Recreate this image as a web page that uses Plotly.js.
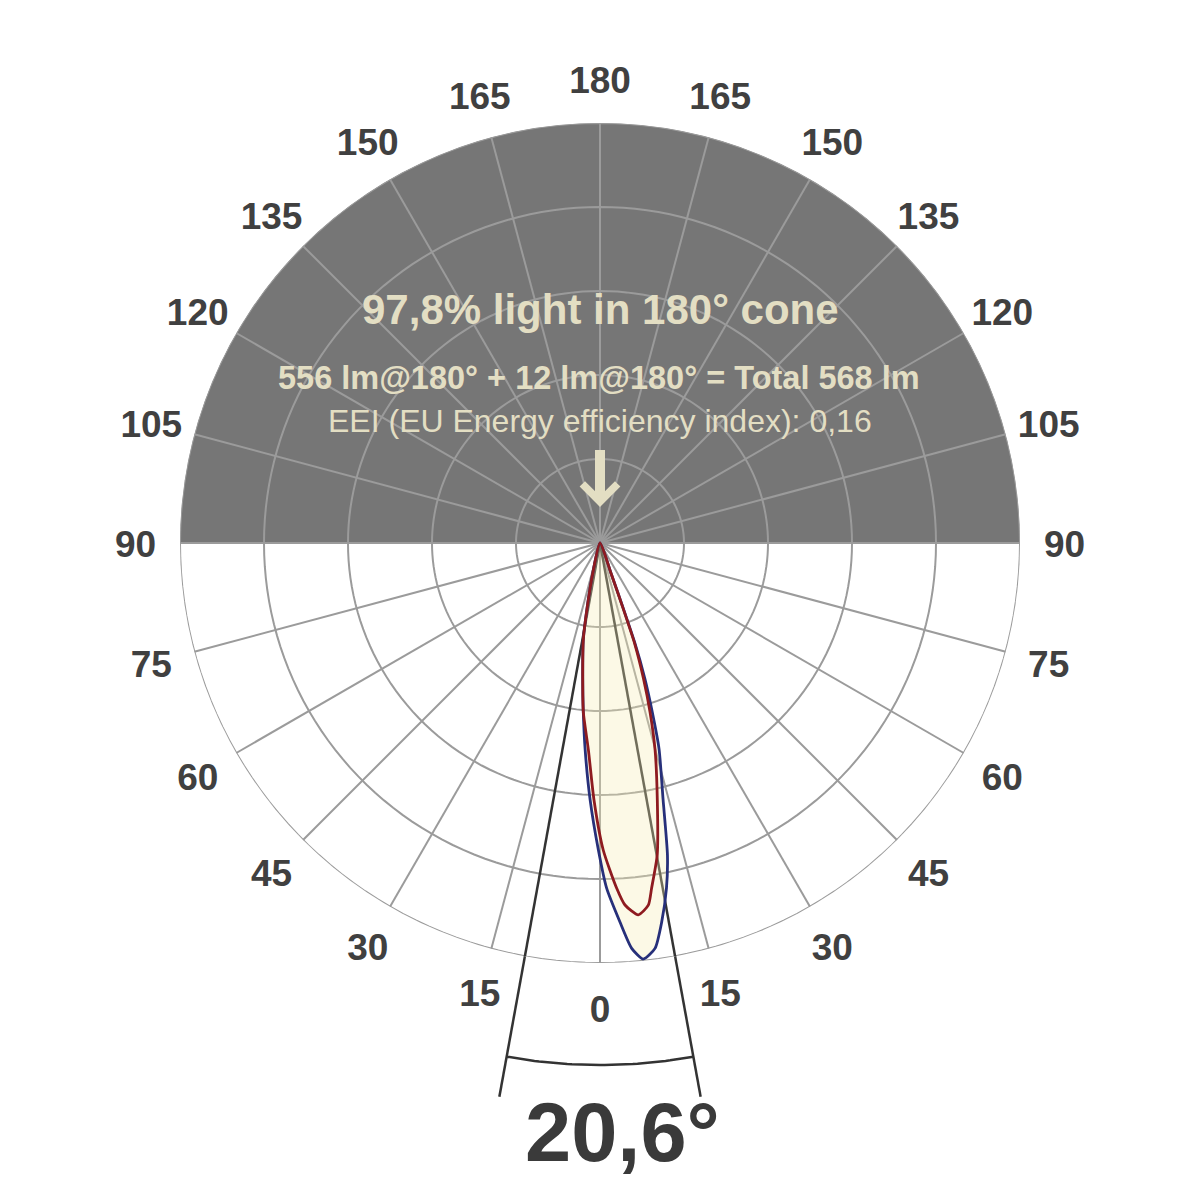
<!DOCTYPE html>
<html>
<head>
<meta charset="utf-8">
<script src="https://cdn.plot.ly/plotly-3.0.1.min.js"></script>
<style>html,body{margin:0;padding:0;background:#fff;}#chart{width:1200px;height:1200px;}</style>
</head>
<body>
<div id="chart"></div>
<script>
// ---- data ----
const ringRadii = [20, 40, 60, 80, 100];
const spokeAngles = [0, 15, 30, 45, 60, 75, 90, 105, 120, 135, 150, 165, 180, 195, 210, 225, 240, 255, 270, 285, 300, 315, 330, 345];
const tickLabels = ['0', '15', '30', '45', '60', '75', '90', '105', '120', '135', '150', '165', '180', '165', '150', '135', '120', '105', '90', '75', '60', '45', '30', '15'];

// upper hemisphere (gray sector)
const upperTheta = [180];
const upperWidth = [180];
const upperR = [100];

// outer (blue) curve, signed angle (+ = right side), relative intensity %
const blueTheta = [-14.5, -13.5, -11.3, -9.8, -7.3, -5.65, -4.1, -2.2, -0.3, 1.1, 3.0, 4.47, 5.94, 7.73, 9.25, 10.9, 12.2, 13.8, 16.0, 17.2, 18.3, 19.2, 19.6, 20.0, 21.0];
const blueR     = [0, 7.4, 15.5, 23.4, 32.4, 40.4, 49.4, 61.2, 73.1, 82.2, 90.3, 96.8, 99.6, 97.4, 91.4, 83.7, 76.0, 63.0, 51.0, 42.0, 34.0, 25.5, 16.0, 7.6, 0];

// inner (red) curve
const redTheta = [-14.5, -13.5, -11.3, -9.8, -7.3, -5.65, -3.2, -1.34, 0.6, 2.77, 3.95, 5.88, 7.6, 8.5, 10.4, 12.57, 14.9, 16.5, 17.8, 19.0, 19.5, 20.0, 21.0];
const redR     = [0, 7.4, 15.5, 23.4, 32.4, 40.4, 49.4, 61.2, 73.1, 82.3, 86.4, 89.0, 87.0, 83.1, 75.5, 62.7, 51.0, 41.9, 33.8, 25.5, 16.0, 7.6, 0];

// beam angle 20,6°
const beamHalfAngle = 10.3;
const beamLineR = 134;
const beamArcR = 124.3;
const tickLabelR = 110.6;

const titleText = '97,8% light in 180° cone';
const lumenText = '556 lm@180° + 12 lm@180° = Total 568 lm';
const eeiText = 'EEI (EU Energy efficiency index): 0,16';
const beamText = '20,6°';

// ---- geometry of the page (polar disk: centre 600,543 px, radius 420 px) ----
const W = 1200, H = 1200, CX = 600, CY = 543, RADPX = 420;
const rMax = ringRadii[ringRadii.length - 1];
const pxPerUnit = RADPX / rMax;
const labelDropPx = 5; // visual baseline correction for label text
// cartesian overlay uses the same scale & centre, for marks that lie outside the disk
const toX = (r, t) => r * Math.sin(t * Math.PI / 180);
const toY = (r, t) => -r * Math.cos(t * Math.PI / 180);

const FONT = 'Liberation Sans, Arial, Helvetica, sans-serif';
const GRID = '#9b9b9b';
const DARK = '#333333';
const traces = [];

traces.push({
  type: 'barpolar', theta: upperTheta, width: upperWidth, r: upperR, base: 0,
  marker: {color: '#767676', line: {width: 0}}, hoverinfo: 'skip'
});

function circleTheta() { const t = []; for (let a = 0; a <= 360; a += 2) t.push(a); return t; }
ringRadii.forEach(rr => {
  const th = circleTheta();
  traces.push({type: 'scatterpolar', mode: 'lines', theta: th, r: th.map(() => rr),
    line: {color: GRID, width: 2}, hoverinfo: 'skip'});
});
spokeAngles.forEach(a => {
  traces.push({type: 'scatterpolar', mode: 'lines', theta: [a, a], r: [0, rMax],
    line: {color: GRID, width: 2}, hoverinfo: 'skip'});
});

// beam angle lines: inside the disk (polar)
[-beamHalfAngle, beamHalfAngle].forEach(t => {
  traces.push({type: 'scatterpolar', mode: 'lines', theta: [t, t], r: [0, rMax],
    line: {color: DARK, width: 2.5}, hoverinfo: 'skip'});
});

// blue curve with fill
traces.push({type: 'scatterpolar', mode: 'lines', theta: blueTheta, r: blueR,
  fill: 'toself', fillcolor: 'rgba(245,235,178,0.32)',
  line: {color: '#27307a', width: 2.8, shape: 'spline', smoothing: 0.6}, hoverinfo: 'skip'});
// red curve
traces.push({type: 'scatterpolar', mode: 'lines', theta: redTheta, r: redR,
  line: {color: '#8e1b20', width: 2.8, shape: 'spline', smoothing: 0.6}, hoverinfo: 'skip'});

// beam angle lines: outside the disk (cartesian overlay)
[-beamHalfAngle, beamHalfAngle].forEach(t => {
  traces.push({type: 'scatter', mode: 'lines', x: [toX(rMax - 1, t), toX(beamLineR, t)], y: [toY(rMax - 1, t), toY(beamLineR, t)],
    line: {color: DARK, width: 2.5}, hoverinfo: 'skip', xaxis: 'x', yaxis: 'y'});
});
(function () {
  const th = []; for (let a = -beamHalfAngle; a <= beamHalfAngle + 1e-9; a += beamHalfAngle / 20) th.push(a);
  traces.push({type: 'scatter', mode: 'lines', x: th.map(t => toX(beamArcR, t)), y: th.map(t => toY(beamArcR, t)),
    line: {color: DARK, width: 2.5}, hoverinfo: 'skip'});
})();

// angle labels, centred on a circle around the disk
traces.push({type: 'scatter', mode: 'text',
  x: spokeAngles.map(t => toX(tickLabelR, t)),
  y: spokeAngles.map(t => toY(tickLabelR, t) - labelDropPx / pxPerUnit),
  text: tickLabels, textposition: 'middle center',
  textfont: {family: FONT, size: 37, color: '#404040', weight: 'bold'}, hoverinfo: 'skip'});

const beige = '#e3dec3';
const layout = {
  width: W, height: H,
  margin: {l: 0, r: 0, t: 0, b: 0},
  paper_bgcolor: '#ffffff', plot_bgcolor: 'rgba(0,0,0,0)',
  showlegend: false,
  xaxis: {visible: false, range: [-CX / pxPerUnit, (W - CX) / pxPerUnit], domain: [0, 1], fixedrange: true},
  yaxis: {visible: false, range: [-(H - CY) / pxPerUnit, CY / pxPerUnit], domain: [0, 1], fixedrange: true},
  polar: {
    domain: {x: [(CX - RADPX) / W, (CX + RADPX) / W], y: [1 - (CY + RADPX) / H, 1 - (CY - RADPX) / H]},
    bgcolor: '#ffffff',
    radialaxis: {visible: false, range: [0, rMax]},
    angularaxis: {
      rotation: -90, direction: 'counterclockwise',
      showgrid: false, showline: false, showticklabels: false, ticks: ''
    }
  },
  annotations: [
    {text: titleText, x: 0.5, y: 1 - 310 / H, xref: 'paper', yref: 'paper', showarrow: false,
      xanchor: 'center', yanchor: 'middle', font: {family: FONT, size: 42, color: beige, weight: 'bold'}},
    {text: lumenText, x: 0.499, y: 1 - 378 / H, xref: 'paper', yref: 'paper', showarrow: false,
      xanchor: 'center', yanchor: 'middle', font: {family: FONT, size: 32.5, color: beige, weight: 'bold'}},
    {text: eeiText, x: 0.5, y: 1 - 421 / H, xref: 'paper', yref: 'paper', showarrow: false,
      xanchor: 'center', yanchor: 'middle', font: {family: FONT, size: 32, color: beige}},
    {text: ' ', x: 0.5, y: 1 - 507 / H, xref: 'paper', yref: 'paper', showarrow: true,
      ax: 0, ay: -60, arrowhead: 4, arrowsize: 0.68, arrowwidth: 10, arrowcolor: beige, standoff: 0,
      font: {size: 2}},
    {text: beamText, x: 0.51875, y: 1 - 1132 / H, xref: 'paper', yref: 'paper', showarrow: false,
      xanchor: 'center', yanchor: 'middle', font: {family: FONT, size: 83, color: '#3a3a3a', weight: 'bold'}}
  ]
};

Plotly.newPlot('chart', traces, layout, {staticPlot: true, displayModeBar: false});
</script>
</body>
</html>
